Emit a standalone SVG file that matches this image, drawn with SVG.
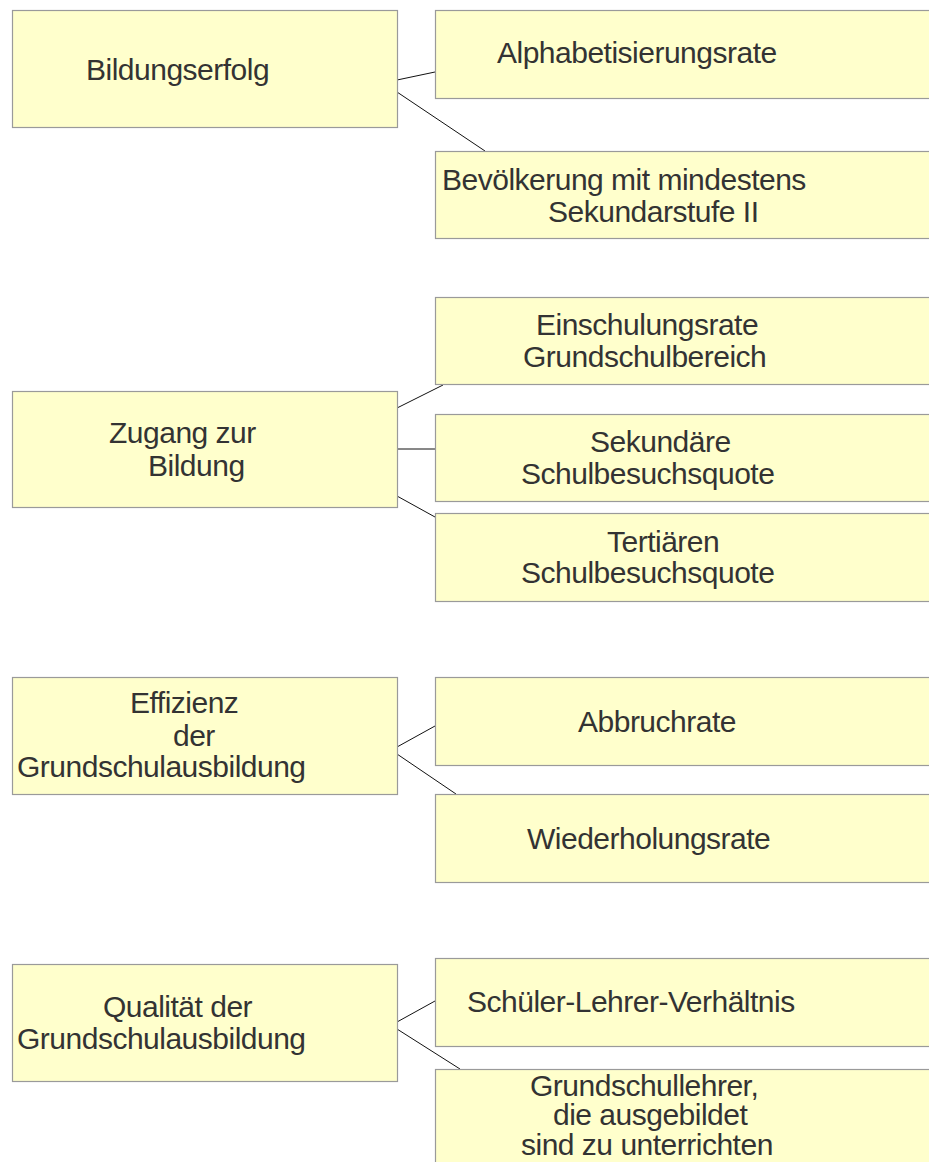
<svg xmlns="http://www.w3.org/2000/svg" width="929" height="1162" viewBox="0 0 929 1162">
<style>
.box{fill:#ffffcc;stroke:#9a9a9a;stroke-width:1.2}
.t{font-family:"Liberation Sans",Arial,sans-serif;font-size:30px;letter-spacing:-0.5px;fill:#333333}
.c{stroke:#111111;stroke-width:1;fill:none}
</style>
<rect width="929" height="1162" fill="#ffffff"/>
<g id="connectors">
<line class="c" x1="397" y1="80" x2="435" y2="72"/>
<line class="c" x1="397" y1="92" x2="485" y2="151"/>
<line class="c" x1="397" y1="408" x2="443" y2="385"/>
<line class="c" x1="397" y1="449" x2="435" y2="449"/>
<line class="c" x1="397" y1="496" x2="435" y2="517"/>
<line class="c" x1="397" y1="747" x2="435" y2="726"/>
<line class="c" x1="397" y1="754" x2="456" y2="794"/>
<line class="c" x1="397" y1="1022" x2="435" y2="1001"/>
<line class="c" x1="397" y1="1029" x2="460" y2="1069"/>
</g>
<g id="n-bildungserfolg">
<rect class="box" x="12.5" y="10.5" width="385" height="117"/>
<text class="t" x="86" y="80">Bildungserfolg</text>
</g>
<g id="n-alphabetisierungsrate">
<rect class="box" x="435.5" y="10.5" width="500" height="88"/>
<text class="t" x="497" y="63">Alphabetisierungsrate</text>
</g>
<g id="n-bevoelkerung">
<rect class="box" x="435.5" y="151.5" width="500" height="87"/>
<text class="t"><tspan x="442" y="190">Bevölkerung mit mindestens</tspan><tspan x="548" y="222">Sekundarstufe II</tspan></text>
</g>
<g id="n-zugang">
<rect class="box" x="12.5" y="391.5" width="385" height="116"/>
<text class="t"><tspan x="109" y="443">Zugang zur</tspan><tspan x="148" y="476">Bildung</tspan></text>
</g>
<g id="n-einschulungsrate">
<rect class="box" x="435.5" y="297.5" width="500" height="87"/>
<text class="t"><tspan x="536" y="335">Einschulungsrate</tspan><tspan x="523" y="367">Grundschulbereich</tspan></text>
</g>
<g id="n-sekundaere">
<rect class="box" x="435.5" y="414.5" width="500" height="87"/>
<text class="t"><tspan x="590" y="452">Sekundäre</tspan><tspan x="521" y="484">Schulbesuchsquote</tspan></text>
</g>
<g id="n-tertiaeren">
<rect class="box" x="435.5" y="513.5" width="500" height="88"/>
<text class="t"><tspan x="607" y="552">Tertiären</tspan><tspan x="521" y="583">Schulbesuchsquote</tspan></text>
</g>
<g id="n-effizienz">
<rect class="box" x="12.5" y="677.5" width="385" height="117"/>
<text class="t"><tspan x="130" y="713">Effizienz</tspan><tspan x="173" y="746">der</tspan><tspan x="17" y="777">Grundschulausbildung</tspan></text>
</g>
<g id="n-abbruchrate">
<rect class="box" x="435.5" y="677.5" width="500" height="88"/>
<text class="t" x="578" y="732">Abbruchrate</text>
</g>
<g id="n-wiederholungsrate">
<rect class="box" x="435.5" y="794.5" width="500" height="88"/>
<text class="t" x="527" y="849">Wiederholungsrate</text>
</g>
<g id="n-qualitaet">
<rect class="box" x="12.5" y="964.5" width="385" height="117"/>
<text class="t"><tspan x="103" y="1017">Qualität der</tspan><tspan x="17" y="1049">Grundschulausbildung</tspan></text>
</g>
<g id="n-schueler-lehrer">
<rect class="box" x="435.5" y="958.5" width="500" height="88"/>
<text class="t" x="467" y="1012">Schüler-Lehrer-Verhältnis</text>
</g>
<g id="n-grundschullehrer">
<rect class="box" x="435.5" y="1069.5" width="500" height="120"/>
<text class="t"><tspan x="530" y="1096">Grundschullehrer,</tspan><tspan x="553" y="1125">die ausgebildet</tspan><tspan x="521" y="1155">sind zu unterrichten</tspan></text>
</g>
</svg>
